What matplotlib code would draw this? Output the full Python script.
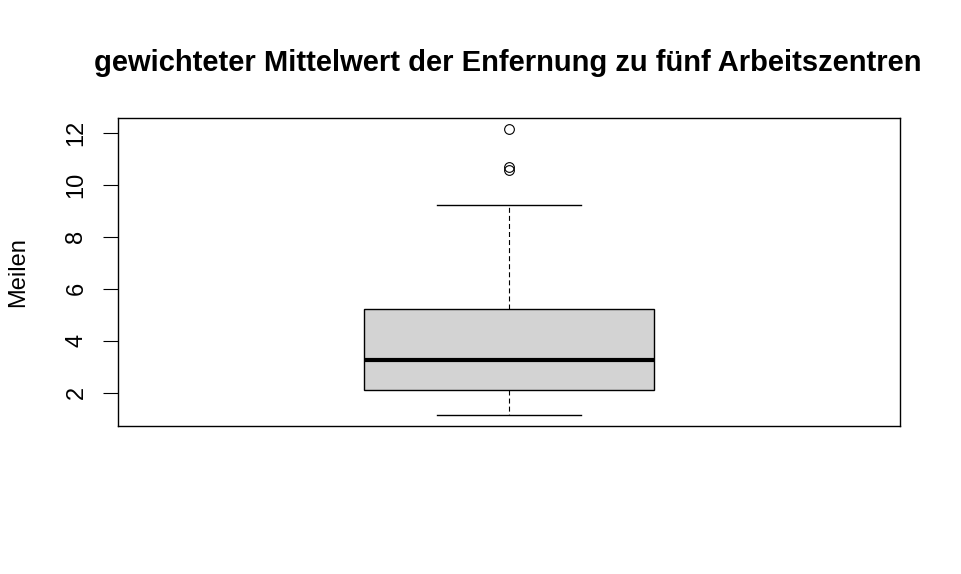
import matplotlib
matplotlib.use("Agg")
import matplotlib.pyplot as plt

# Boxplot summary (Meilen)
q1 = 2.11
median = 3.25
q3 = 5.22
whisker_low = 1.16
whisker_high = 9.20
outliers = [12.12, 10.68, 10.57]
yticks = [2, 4, 6, 8, 10, 12]

plt.rcParams['font.family'] = ['Liberation Sans', 'DejaVu Sans']
plt.rcParams['lines.scale_dashes'] = False

fig = plt.figure(figsize=(9.61, 5.74), dpi=100)
ax = fig.add_axes([118 / 961, 1 - 426 / 574, 782 / 961, 308 / 574])

stats = [{
    'med': median, 'q1': q1, 'q3': q3,
    'whislo': whisker_low, 'whishi': whisker_high,
    'fliers': outliers, 'label': '',
}]
ax.bxp(stats, positions=[1], widths=0.4, patch_artist=True, showcaps=True,
       boxprops=dict(facecolor='#d3d3d3', edgecolor='black', linewidth=1.0),
       medianprops=dict(color='black', linewidth=3.0, solid_capstyle='butt'),
       whiskerprops=dict(color='black', linewidth=0.8, linestyle=(0, (3.6, 2.2))),
       capprops=dict(color='black', linewidth=1.0),
       flierprops=dict(marker='o', markerfacecolor='none', markeredgecolor='black',
                       markersize=7, markeredgewidth=0.8),
       capwidths=0.2)

lo = min([whisker_low] + outliers)
hi = max([whisker_high] + outliers)
pad = (hi - lo) * 0.04
ax.set_ylim(lo - pad, hi + pad)
ax.set_xlim(0.46, 1.54)

ax.set_xticks([])
ax.set_yticks(yticks)
ax.set_yticklabels([str(t) for t in yticks], rotation=90, va='center', fontsize=17)
ax.tick_params(axis='y', length=10.5, width=0.8, pad=11.5)
for s in ax.spines.values():
    s.set_linewidth(1.0)

fig.text(18 / 961, 1 - 272 / 574, 'Meilen', rotation=90, ha='center', va='center', fontsize=17)
fig.text(508 / 961, 1 - 63 / 574, 'gewichteter Mittelwert der Enfernung zu fünf Arbeitszentren',
         ha='center', va='center', fontsize=21, fontweight='bold')

fig.savefig('out.png', dpi=100)
